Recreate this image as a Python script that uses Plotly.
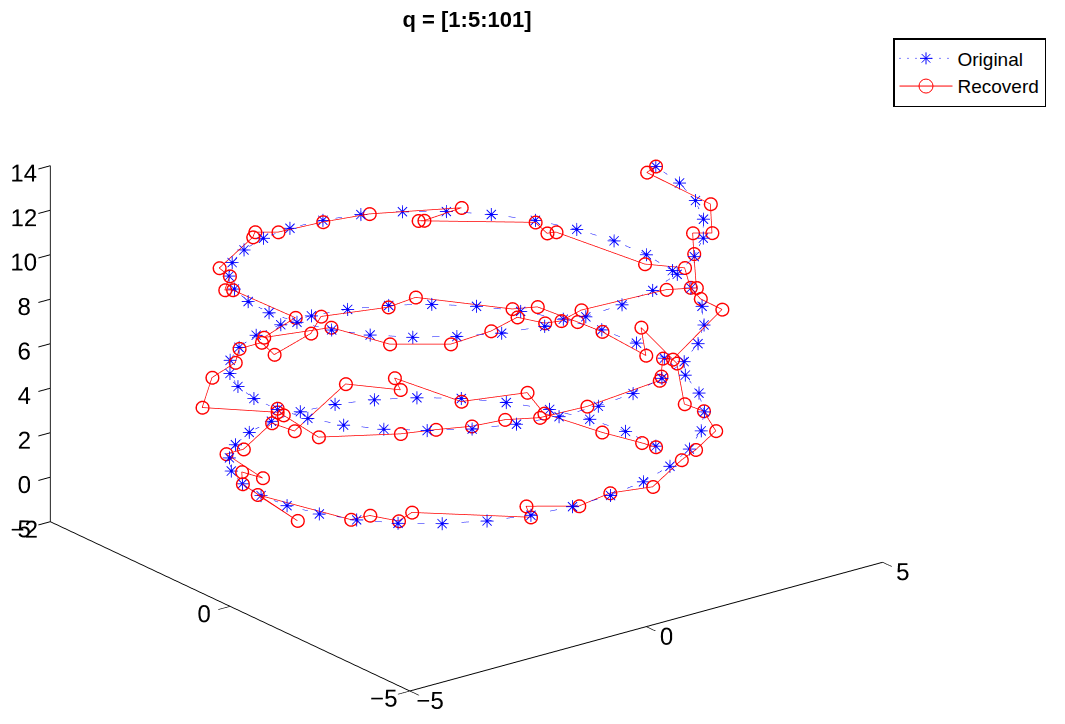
import plotly.graph_objects as go

orig_x = [4.00,3.93,3.72,3.38,2.92,2.35,1.70,0.99,0.25,-0.50,-1.24,-1.93,-2.55,-3.08,-3.51,-3.80,-3.97,-3.99,-3.87,-3.62,-3.24,-2.74,-2.14,-1.47,-0.75,0.00,0.75,1.47,2.14,2.74,3.24,3.62,3.87,3.99,3.97,3.80,3.51,3.08,2.55,1.93,1.24,0.50,-0.25,-0.99,-1.70,-2.35,-2.92,-3.38,-3.72,-3.93,-4.00,
 -3.93,-3.72,-3.38,-2.92,-2.35,-1.70,-0.99,-0.25,0.50,1.24,1.93,2.55,3.08,3.51,3.80,3.97,3.99,3.87,3.62,3.24,2.74,2.14,1.47,0.75,0.00,-0.75,-1.47,-2.14,-2.74,-3.24,-3.62,-3.87,-3.99,-3.97,-3.80,-3.51,-3.08,-2.55,-1.93,-1.24,-0.50,0.25,0.99,1.70,2.35,2.92,3.38,3.72,3.93,4.00]
orig_y = [0.00,0.75,1.47,2.14,2.74,3.24,3.62,3.87,3.99,3.97,3.80,3.51,3.08,2.55,1.93,1.24,0.50,-0.25,-0.99,-1.70,-2.35,-2.92,-3.38,-3.72,-3.93,-4.00,-3.93,-3.72,-3.38,-2.92,-2.35,-1.70,-0.99,-0.25,0.50,1.24,1.93,2.55,3.08,3.51,3.80,3.97,3.99,3.87,3.62,3.24,2.74,2.14,1.47,0.75,0.00,
 -0.75,-1.47,-2.14,-2.74,-3.24,-3.62,-3.87,-3.99,-3.97,-3.80,-3.51,-3.08,-2.55,-1.93,-1.24,-0.50,0.25,0.99,1.70,2.35,2.92,3.38,3.72,3.93,4.00,3.93,3.72,3.38,2.92,2.35,1.70,0.99,0.25,-0.50,-1.24,-1.93,-2.55,-3.08,-3.51,-3.80,-3.97,-3.99,-3.87,-3.62,-3.24,-2.74,-2.14,-1.47,-0.75,0.00]
z_values = [0.00,0.13,0.25,0.38,0.50,0.63,0.75,0.88,1.01,1.13,1.26,1.38,1.51,1.63,1.76,1.88,2.01,2.14,2.26,2.39,2.51,2.64,2.76,2.89,3.02,3.14,3.27,3.39,3.52,3.64,3.77,3.90,4.02,4.15,4.27,4.40,4.52,4.65,4.78,4.90,5.03,5.15,5.28,5.40,5.53,5.65,5.78,5.91,6.03,6.16,6.28,6.41,6.53,6.66,6.79,6.91,7.04,7.16,7.29,7.41,7.54,7.67,7.79,7.92,8.04,8.17,8.29,8.42,8.55,8.67,8.80,8.92,9.05,9.17,9.30,9.42,9.55,9.68,9.80,9.93,10.05,10.18,10.30,10.43,10.56,10.68,10.81,10.93,11.06,11.18,11.31,11.44,11.56,11.69,11.81,11.94,12.06,12.19,12.32,12.44,12.57]
recov_x = [3.97,3.82,3.51,3.19,3.48,2.26,1.96,1.62,0.97,-1.13,-1.29,-2.49,-2.94,-3.21,-3.40,-3.81,-4.20,-4.08,-3.61,-3.32,-3.17,-2.83,-1.45,-1.28,-0.65,0.06,0.73,1.80,2.20,2.93,3.25,3.11,4.09,4.55,3.74,3.75,3.62,3.43,2.95,1.91,1.18,-0.06,-0.76,-1.93,-1.84,-2.39,-2.92,-3.74,-4.80,-4.01,-3.98,-4.17,-4.40,-3.29,-2.78,-2.28,-1.73,-1.28,-0.41,1.22,1.28,1.73,1.76,3.76,3.70,3.80,4.21,3.70,3.34,3.11,3.18,1.58,1.58,2.37,0.88,-0.05,-1.02,-1.41,-1.66,-3.07,-3.24,-3.78,-3.75,-3.78,-4.85,-3.74,-3.51,-2.77,-1.94,-1.27,-1.15,-0.95,-0.45,1.19,1.57,2.42,2.92,3.10,3.82,3.79,4.00]
recov_y = [-0.04,0.15,0.85,2.04,2.89,3.12,4.58,3.97,4.64,3.30,3.72,2.93,2.82,1.45,1.78,1.22,-0.82,0.45,-1.53,-1.68,-2.28,-2.20,-3.69,-3.34,-3.98,-3.91,-4.22,-3.61,-3.48,-3.08,-2.32,-1.97,-0.47,1.13,-0.07,1.16,1.68,2.54,2.61,3.93,3.73,3.97,3.33,2.81,3.28,3.18,2.59,2.16,1.04,-0.01,0.03,-0.39,-1.67,-2.49,-2.80,-3.14,-3.34,-3.72,-3.89,-3.76,-3.73,-3.18,-3.42,-2.16,-1.64,-1.23,-0.53,-0.09,1.90,1.85,2.27,3.42,3.26,3.26,3.86,3.93,3.90,4.03,3.76,2.84,2.33,1.75,1.57,-0.21,-0.74,-1.15,-2.48,-3.20,-3.23,-3.08,-3.69,-3.88,-3.78,-3.99,-4.33,-3.14,-2.45,-2.75,-1.76,-0.03,-0.00]
xy_ticks = [-5, 0, 5]
z_ticks = [-2, 0, 2, 4, 6, 8, 10, 12, 14]
assert all(len(v) == 101 for v in (orig_x, orig_y, z_values, recov_x, recov_y))

FONT = "Liberation Sans"
fig = go.Figure()
fig.add_trace(go.Scatter3d(x=orig_x, y=orig_y, z=z_values, mode="lines+text", showlegend=False,
    text=["\u2733"] * len(orig_x), textposition="middle center",
    textfont=dict(family="DejaVu Sans", size=18, color="#0000ff"),
    line=dict(color="#0000ff", width=1, dash="dot")))
fig.add_trace(go.Scatter3d(x=recov_x, y=recov_y, z=z_values, mode="lines+markers", showlegend=False,
    line=dict(color="#ff0000", width=1.5), marker=dict(symbol="circle-open", size=8, color="#ff0000")))
fig.add_trace(go.Scatter(x=[None], y=[None], name="Original", mode="lines+markers",
    line=dict(color="#0000ff", width=1, dash="1px,7px"),
    marker=dict(symbol="asterisk-open", size=10, color="#0000ff", line=dict(color="#0000ff", width=1))))
fig.add_trace(go.Scatter(x=[None], y=[None], name="Recoverd", mode="lines+markers",
    line=dict(color="#ff0000", width=1),
    marker=dict(symbol="circle-open", size=14, color="#ff0000", line=dict(color="#ff0000", width=1))))
ax = dict(showbackground=False, showgrid=False, zeroline=False, showspikes=False, showline=True,
          linecolor="#000", linewidth=2, ticks="outside", tickcolor="#000", ticklen=15, tickwidth=2, tickangle=0,
          title=dict(text=""), tickfont=dict(family=FONT, size=17, color="#000"))
fig.update_layout(width=1065, height=724, margin=dict(l=0, r=0, t=0, b=0), paper_bgcolor="#fff", plot_bgcolor="#fff",
    title=dict(text="<b>q = [1:5:101]</b>", x=0.4385, xanchor="center", y=0.974, yanchor="middle",
               font=dict(family=FONT, size=22, color="#000")),
    xaxis=dict(visible=False), yaxis=dict(visible=False),
    legend=dict(x=0.8385, xanchor="left", y=0.9475, yanchor="top", bgcolor="#fff", bordercolor="#000", borderwidth=1.5,
                font=dict(family=FONT, size=19, color="#000"), itemwidth=53, tracegroupgap=0,
                entrywidth=122, entrywidthmode="pixels"),
    scene=dict(domain=dict(x=[0, 0.876], y=[0, 0.994]),
        xaxis=dict(ax, range=[-5, 5], tickvals=xy_ticks),
        yaxis=dict(ax, range=[-5, 5], tickvals=xy_ticks),
        zaxis=dict(ax, range=[-2, 14], tickvals=z_ticks),
        aspectmode="manual", aspectratio=dict(x=1.65, y=1.65, z=1.059),
        camera=dict(projection=dict(type="orthographic"), up=dict(x=0, y=0, z=1), center=dict(x=0, y=0, z=0),
                    eye=dict(x=-0.565, y=-0.743, z=0.358))))
fig.write_html("out.html", config=dict(displayModeBar=False),
               post_script="document.body.style.margin='0';document.body.style.overflow='hidden';")
